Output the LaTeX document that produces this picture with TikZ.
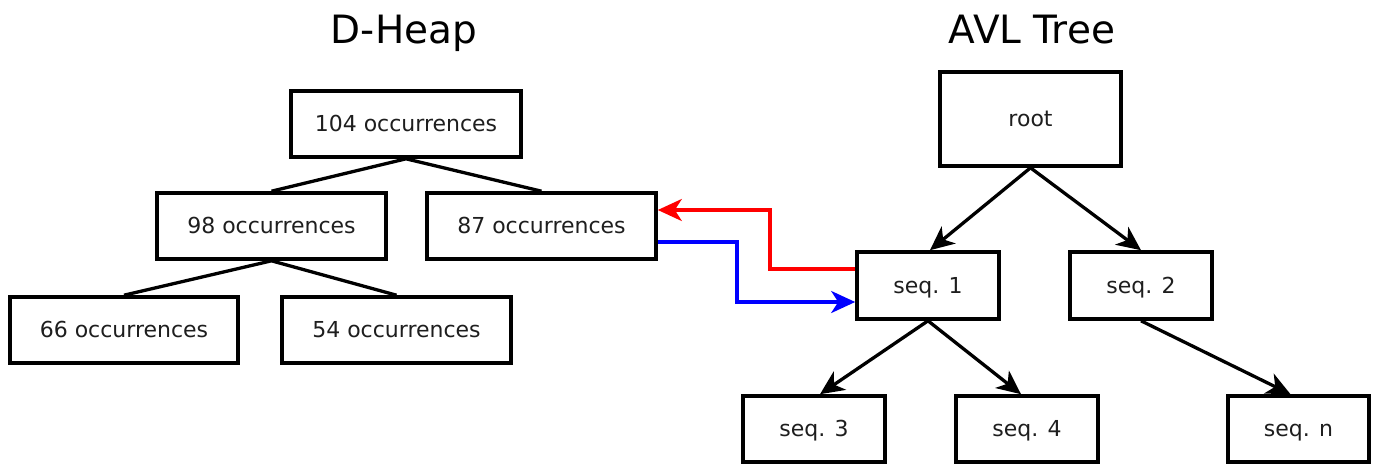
\documentclass[tikz,border=0pt]{standalone}
\usepackage{fontspec}
\setmainfont{DejaVu Sans}
\usetikzlibrary{arrows.meta}
\definecolor{txt}{RGB}{30,30,30}
\begin{document}
\begin{tikzpicture}[x=1pt,y=-1pt,
  box/.style={draw=black,line width=3.6pt,fill=white,inner sep=0pt,text=txt,
    text height=15.6pt,text depth=0pt,
    font=\fontsize{22}{24}\selectfont},
  title/.style={anchor=base,inner sep=0pt,font=\fontsize{39}{44}\selectfont},
  edge/.style={line width=3.3pt,black},
  arr/.style={line width=3.3pt,-{Stealth[length=24pt,width=22pt,inset=7pt]}},
  link/.style={line width=3.3pt,-{Stealth[length=24pt,width=22pt,inset=7pt]}}
]
\useasboundingbox (0,0) rectangle (1376,464);
\node[title] (t1) at (404,43) {D-Heap};
\node[title] (t2) at (1032,43) {AVL Tree};
% heap
\node[box,minimum width=230pt,minimum height=66pt] (h104) at (406,124) {104 occurrences};
\node[box,minimum width=229pt,minimum height=66pt] (h98) at (271.5,226) {98 occurrences};
\node[box,minimum width=229pt,minimum height=66pt] (h87) at (541.5,226) {87 occurrences};
\node[box,minimum width=228pt,minimum height=66pt] (h66) at (124,330) {66 occurrences};
\node[box,minimum width=229pt,minimum height=66pt] (h54) at (396.5,330) {54 occurrences};
\draw[edge] (h98.north) -- (h104.south) -- (h87.north);
\draw[edge] (h66.north) -- (h98.south) -- (h54.north);
% AVL
\node[box,minimum width=181pt,minimum height=94pt] (root) at (1030.5,119) {root};
\node[box,minimum width=142pt,minimum height=67pt] (s1) at (928,285.5) {seq. 1};
\node[box,minimum width=142pt,minimum height=67pt] (s2) at (1141,285.5) {seq. 2};
\node[box,minimum width=142pt,minimum height=66pt] (s3) at (814,429) {seq. 3};
\node[box,minimum width=142pt,minimum height=66pt] (s4) at (1027,429) {seq. 4};
\node[box,minimum width=141pt,minimum height=66pt] (sn) at (1298.5,429) {seq. n};
\draw[arr] (root.south) -- ([xshift=2pt]s1.north);
\draw[arr] (root.south) -- (s2.north);
\draw[arr] (s1.south) -- ([xshift=6pt]s3.north);
\draw[arr] (s1.south) -- ([xshift=-6pt]s4.north);
\draw[arr] (s2.south) -- ([xshift=-8pt]sn.north);
% links
\coordinate (rc) at (770,210);
\coordinate (bc) at (737,242);
\draw[link,red] ([yshift=16.5pt]s1.west) -| (rc) -- ([yshift=16pt]h87.east);
\draw[link,blue] ([yshift=-16pt]h87.east) -| (bc) |- ([yshift=-16.5pt]s1.west);
\end{tikzpicture}
\end{document}
